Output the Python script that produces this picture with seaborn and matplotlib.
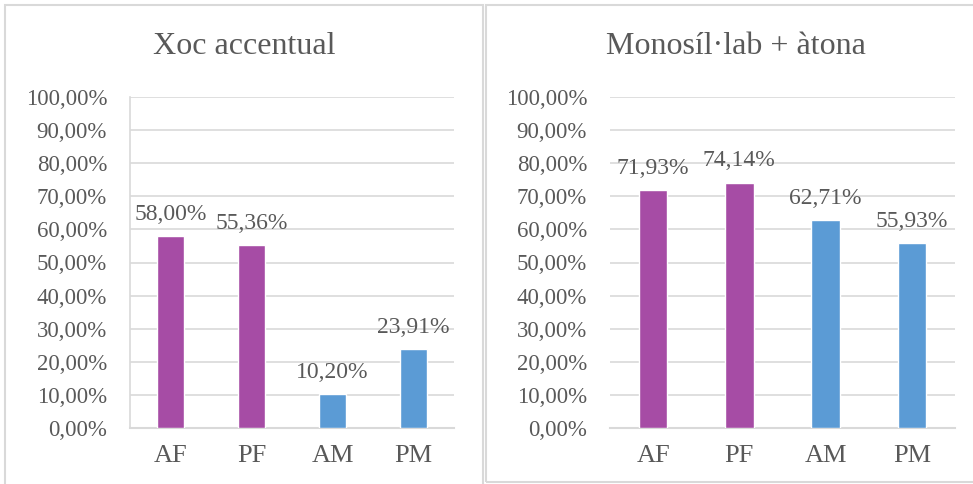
import matplotlib
matplotlib.use("Agg")
import matplotlib.pyplot as plt
import seaborn as sns
import pandas as pd
from matplotlib.patches import Rectangle
from matplotlib.ticker import FuncFormatter

categories = ["AF", "PF", "AM", "PM"]
xoc_values = [58.00, 55.36, 10.20, 23.91]
mono_values = [71.93, 74.14, 62.71, 55.93]
titles = ["Xoc accentual", "Monosíl·lab + àtona"]
yticks = [0, 10, 20, 30, 40, 50, 60, 70, 80, 90, 100]
bar_colors = ["#A64CA5", "#A64CA5", "#5B9BD5", "#5B9BD5"]

sns.set_theme(style="white")
plt.rcParams["font.family"] = ["Liberation Serif", "DejaVu Serif"]

W, H = 973, 484
fig = plt.figure(figsize=(W / 100, H / 100), dpi=100)
fig.patch.set_facecolor("white")

TXT = "#595959"
GRID = "#D9D9D9"

def px_axes(x0, y0, x1, y1):
    return fig.add_axes([x0 / W, 1 - y1 / H, (x1 - x0) / W, (y1 - y0) / H])

# panel borders
fig.patches.append(Rectangle((5 / W, 1 - 490 / H), 478 / W, 485 / H, transform=fig.transFigure,
                             fill=False, edgecolor=GRID, linewidth=1.5, zorder=0))
fig.patches.append(Rectangle((486 / W, 1 - 482 / H), 495 / W, 477 / H, transform=fig.transFigure,
                             fill=False, edgecolor=GRID, linewidth=1.5, zorder=0))

panels = [
    (xoc_values, (130, 97, 454, 428), 244, True),
    (mono_values, (610, 97, 955, 428), 736, False),
]

for (vals, (x0, y0, x1, y1), tx, vline), title in zip(panels, titles):
    ax = px_axes(x0, y0, x1, y1)
    df = pd.DataFrame({"cat": categories, "val": vals})
    sns.barplot(data=df, x="cat", y="val", hue="cat", palette=bar_colors, legend=False,
                width=0.33, saturation=1, ax=ax, zorder=3)
    ax.set_ylim(0, 100)
    ax.set_xlim(-0.5, 3.5)
    ax.set_yticks(yticks)
    ax.yaxis.set_major_formatter(FuncFormatter(lambda v, p: f"{v:.2f}".replace(".", ",") + "%"))
    ax.grid(axis="y", color=GRID, linewidth=1.2, zorder=0)
    ax.set_axisbelow(True)
    for s in ["top", "right"]:
        ax.spines[s].set_visible(False)
    ax.spines["bottom"].set_color(GRID)
    ax.spines["bottom"].set_linewidth(1.5)
    if vline:
        ax.spines["left"].set_color(GRID)
        ax.spines["left"].set_linewidth(1.2)
    else:
        ax.spines["left"].set_visible(False)
    ax.tick_params(axis="y", length=0, pad=16.5, labelsize=16.5, labelcolor=TXT)
    ax.tick_params(axis="x", length=0, pad=12, labelsize=19, labelcolor=TXT)
    ax.set_xlabel("")
    ax.set_ylabel("")
    for i, v in enumerate(vals):
        ax.annotate(f"{v:.2f}".replace(".", ",") + "%", (i, v), xytext=(0, 8),
                    textcoords="offset points", ha="center", va="bottom",
                    fontsize=17, color=TXT)
    fig.text(tx / W, 1 - 46 / H, title, ha="center", va="center", fontsize=23, color=TXT)

fig.savefig("out.png", dpi=100, facecolor="white")
